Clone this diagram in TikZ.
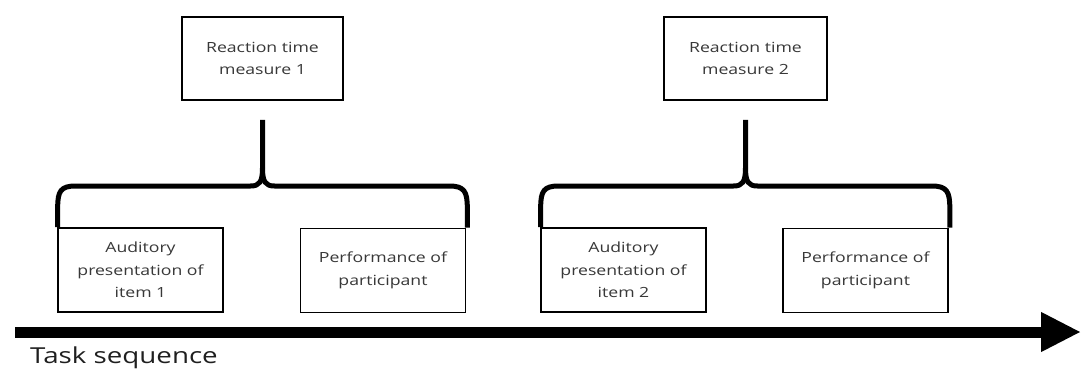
\documentclass[tikz,border=0pt]{standalone}
\usepackage{fontspec}
\setmainfont[FakeStretch=1.26]{Open Sans}
\usetikzlibrary{arrows.meta}
\definecolor{boxtext}{HTML}{383838}
\tikzset{
  stagebox/.style={draw=black, line width=1.6pt, fill=white, align=center,
    text=boxtext, font=\fontsize{14}{22.5}\selectfont, inner sep=0pt},
  topbox/.style={stagebox, minimum width=161pt, minimum height=83pt},
  lowbox/.style={stagebox, minimum width=165pt, minimum height=84pt},
  bracket/.style={line width=5pt, line join=round},
  timeline/.style={line width=11pt, -{Triangle[length=40pt,width=37pt]}}
}
\begin{document}
\begin{tikzpicture}[x=1pt,y=-1pt]
  \useasboundingbox (0,0) rectangle (1088,370);

  % measurement boxes
  \node[topbox] (rt1) at (262.5,58.5) {Reaction time\\measure 1};
  \node[topbox, minimum width=163pt] (rt2) at (745.5,58.5) {Reaction time\\measure 2};

  % task stages
  \node[lowbox] (a1) at (140.5,270) {Auditory\\presentation of\\item 1};
  \node[lowbox] (p1) at (383,270.5) {Performance of\\participant};
  \node[lowbox] (a2) at (623.5,270) {Auditory\\presentation of\\item 2};
  \node[lowbox] (p2) at (865.5,270.5) {Performance of\\participant};

  % curly brackets joining each pair of stages to its measure
  % (y grows downward, so a positive yshift moves a point up)
  \foreach \m/\l/\r in {rt1/a1/p1, rt2/a2/p2}{
    \coordinate (top) at ([yshift=-19pt]\m.south);
    \coordinate (cusp) at (top |- 0,186);
    \coordinate (le) at ([xshift=0.5pt]\l.north west);
    \coordinate (re) at ([xshift=1pt]\r.north east);
    \draw[bracket]
      (le) -- ([yshift=20pt]le)
        .. controls ([yshift=36pt]le) and ([xshift=3pt]le |- cusp) .. ([xshift=18pt]le |- cusp)
        -- ([xshift=-12pt]cusp)
        .. controls ([xshift=-3pt]cusp) and ([yshift=4pt]cusp) .. ([yshift=18pt]cusp)
        -- (top);
    \draw[bracket]
      (re) -- ([yshift=20pt]re)
        .. controls ([yshift=36pt]re) and ([xshift=-3pt]re |- cusp) .. ([xshift=-18pt]re |- cusp)
        -- ([xshift=12pt]cusp)
        .. controls ([xshift=3pt]cusp) and ([yshift=4pt]cusp) .. ([yshift=18pt]cusp);
  }

  % time axis
  \coordinate (tstart) at (15,332);
  \coordinate (tend) at (1081,332);
  \draw[timeline] (tstart) -- (tend);
  \node[anchor=base west, inner sep=0pt, text=black!88,
        font=\fontsize{22}{26}\selectfont] (seq) at (30,363) {Task sequence};
\end{tikzpicture}
\end{document}
